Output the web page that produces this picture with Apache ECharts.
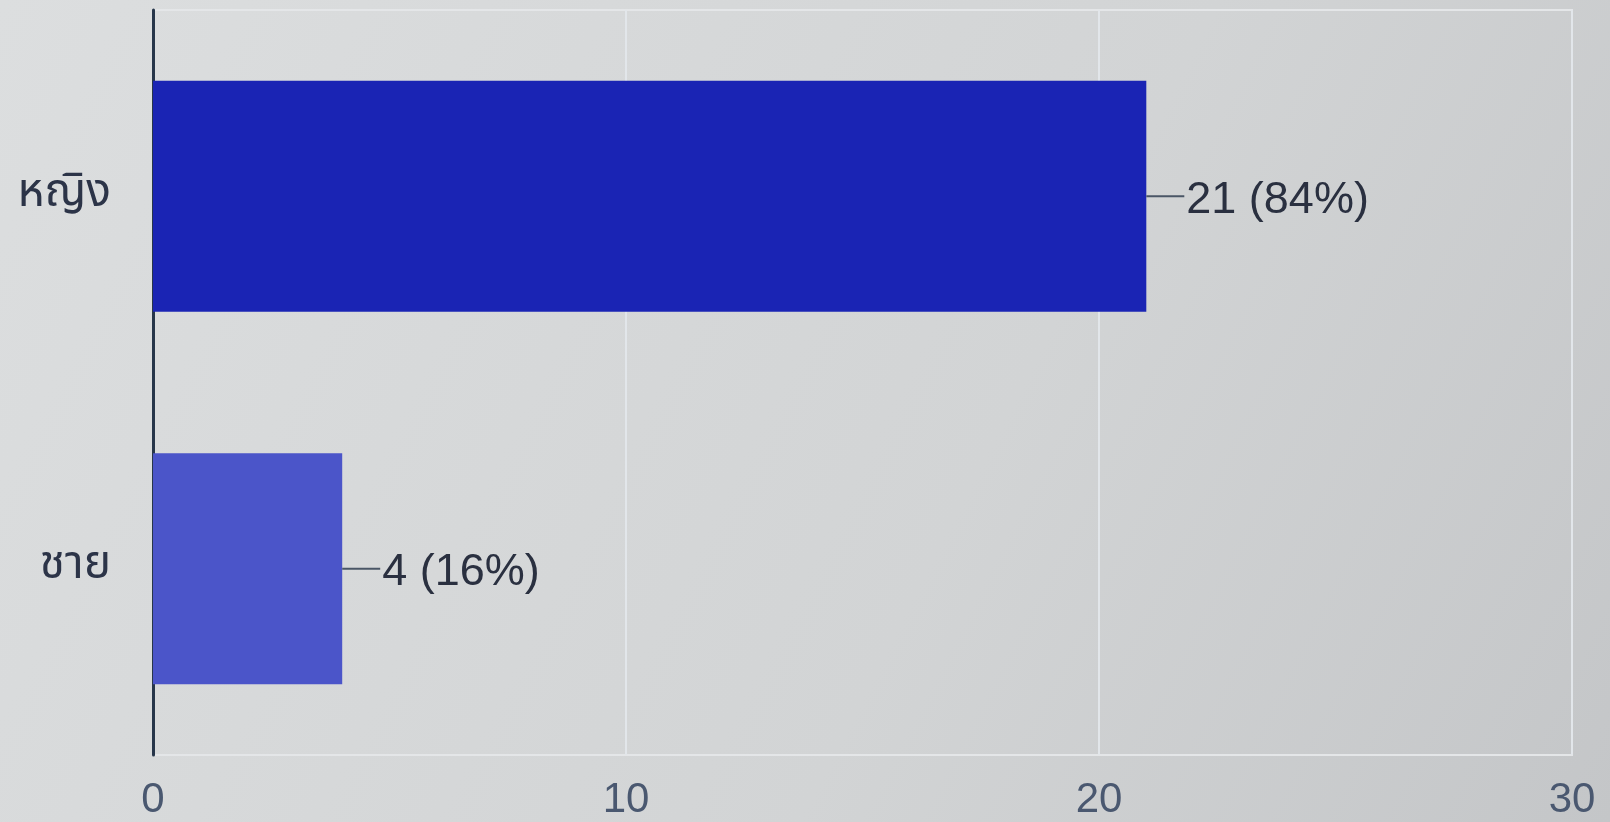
<!DOCTYPE html>
<html><head><meta charset="utf-8">
<script src="https://cdn.jsdelivr.net/npm/echarts@6/dist/echarts.min.js"></script>
<style>html,body{margin:0;padding:0;background:#d3d5d6;}#c{width:1610px;height:822px;}</style>
</head><body><div id="c"></div>
<script>
const categories = ['ชาย', 'หญิง'];
const counts = [4, 21];
const percents = [16, 84];
const barColors = ['#4b55c9', '#1a24b4'];
const xTicks = [0, 10, 20, 30];

const chart = echarts.init(document.getElementById('c'));
chart.setOption({
  backgroundColor: {
    type: 'linear', x: 0, y: 0, x2: 1, y2: 1,
    colorStops: [{offset: 0, color: '#dcdedf'}, {offset: 0.6, color: '#d2d4d5'}, {offset: 1, color: '#c4c6c8'}]
  },
  grid: {left: 153, right: 38, top: 10, bottom: 67, show: true, borderColor: '#e4e6e8', borderWidth: 2},
  xAxis: {
    type: 'value', min: xTicks[0], max: xTicks[xTicks.length - 1], interval: 10,
    axisLine: {show: false}, axisTick: {show: false},
    splitLine: {show: true, lineStyle: {color: '#e2e6ea', width: 2}},
    axisLabel: {fontFamily: 'Liberation Sans, Arial, sans-serif', fontSize: 42, color: '#4a5870', margin: 24}
  },
  yAxis: {
    type: 'category', data: categories,
    axisLine: {show: true, lineStyle: {color: '#27364a', width: 3}},
    axisTick: {show: false},
    axisLabel: {fontFamily: 'Noto Sans Thai, Noto Sans, DejaVu Sans, sans-serif', fontSize: 46, color: '#2c3448', margin: 42}
  },
  series: [{
    type: 'bar',
    barCategoryGap: '38%',
    data: counts.map((v, i) => ({value: v, itemStyle: {color: barColors[i]}})),
    label: {
      show: true, position: 'right', distance: 0,
      formatter: p => '{ln|}{t|' + counts[p.dataIndex] + ' (' + percents[p.dataIndex] + '%)}',
      rich: {
        ln: {width: 38, height: 2, backgroundColor: '#4a5666'},
        t: {fontFamily: 'Liberation Sans, Arial, sans-serif', fontSize: 45, color: '#2a3040', padding: [8, 0, 0, 2]}
      }
    }
  }]
});
</script></body></html>
